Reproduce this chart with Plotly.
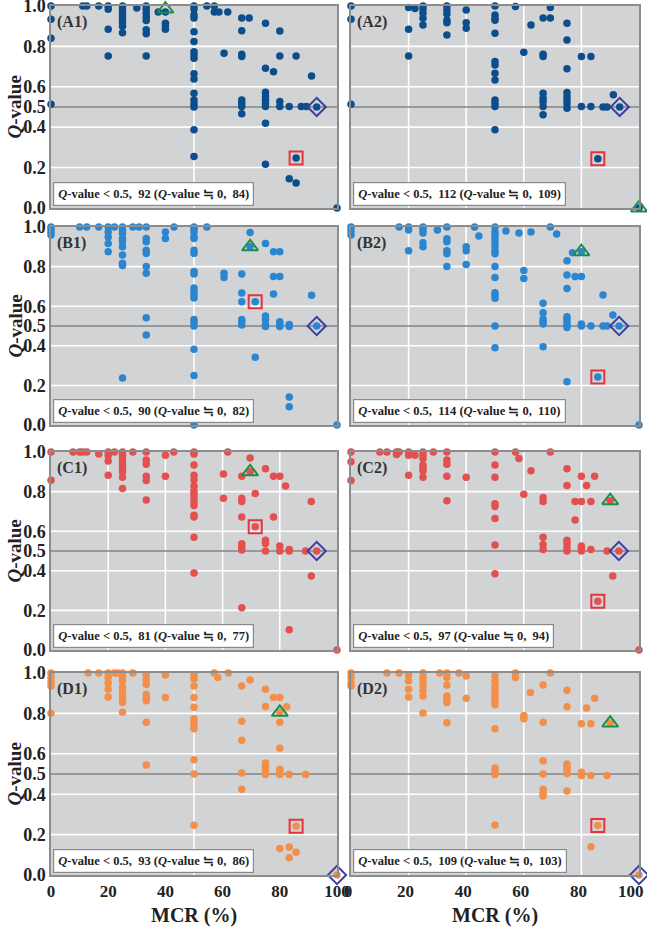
import plotly.graph_objects as go

# ---------------- data: (MCR %, [Q-values]) columns per panel ----------------
A1_cols = [
    (0, [1.0, 0.934, 0.84, 0.514]), (11.1, [1.0]), (12.5, [1.0]), (16.7, [1.0]),
    (20, [1.0, 0.984, 0.885, 0.753]),
    (25, [1.0, 0.984, 0.967, 0.95, 0.934, 0.918, 0.9, 0.868]),
    (30, [0.99]),
    (33.3, [1.0, 0.984, 0.964, 0.944, 0.928, 0.882, 0.862, 0.753]),
    (37.5, [0.97]), (40, [0.97, 0.915, 0.898, 0.885]),
    (50, [1.0, 0.984, 0.955, 0.94, 0.873, 0.824, 0.774, 0.758, 0.741, 0.664, 0.639,
          0.568, 0.535, 0.515, 0.5, 0.387, 0.255]),
    (54.5, [1.0]), (57.1, [1.0, 0.97]), (58.7, [0.97]), (60.5, [0.766]), (61.8, [0.97]),
    (66.7, [0.94, 0.878, 0.761, 0.75, 0.535, 0.519, 0.502, 0.466]), (69.3, [0.94]),
    (75, [0.914, 0.692, 0.573, 0.552, 0.535, 0.519, 0.502, 0.42, 0.217]),
    (77.8, [0.675]), (80, [0.876, 0.753, 0.527, 0.502]), (83.3, [0.502, 0.145]),
    (85.7, [0.753, 0.247, 0.124]), (87.5, [0.502]), (89.3, [0.502]), (91.1, [0.654]),
    (92.9, [0.5]), (100, [0.0]),
]
A2_cols = [
    (0, [1.0, 0.934, 0.514]), (20, [0.993, 0.885, 0.753]), (22.2, [0.988]),
    (25, [1.0, 0.984, 0.964, 0.939, 0.906]),
    (33.3, [1.0, 0.98, 0.96, 0.93, 0.917, 0.857]), (40, [0.98, 0.917, 0.89]),
    (50, [1.0, 0.956, 0.939, 0.93, 0.865, 0.725, 0.708, 0.667, 0.634, 0.535, 0.519, 0.502, 0.387]),
    (57.1, [0.997]), (60, [0.771]), (62.5, [0.906]),
    (66.7, [0.94, 0.761, 0.75, 0.568, 0.544, 0.527, 0.502, 0.461]), (69.2, [0.993, 0.94]),
    (75, [0.914, 0.832, 0.689, 0.572, 0.552, 0.535, 0.516, 0.494]),
    (80, [0.75, 0.502]), (83.3, [0.75, 0.502]), (85.7, [0.244]), (87.5, [0.5]), (88.9, [0.5]),
    (91.1, [0.56]), (93.3, [0.5]), (100, [0.0]),
]
B1_cols = [
    (0, [1.0, 0.99, 0.975, 0.96]), (10, [1.0]), (12.5, [1.0]), (16.7, [1.0]),
    (20, [1.0, 0.975, 0.95, 0.917, 0.875]), (22.2, [1.0]),
    (25, [1.0, 0.983, 0.967, 0.942, 0.925, 0.9, 0.858, 0.817, 0.805, 0.238]),
    (28.6, [1.0]), (30.8, [1.0]),
    (33.3, [1.0, 0.942, 0.925, 0.883, 0.867, 0.8, 0.767, 0.542, 0.455]),
    (40, [0.975, 0.942]), (43, [1.0]),
    (50, [1.0, 0.99, 0.975, 0.95, 0.942, 0.883, 0.867, 0.775, 0.762, 0.692, 0.675, 0.658,
          0.642, 0.533, 0.517, 0.5, 0.383, 0.25, 0.0]),
    (54.5, [1.0]), (60.5, [0.767, 0.745]),
    (66.7, [0.762, 0.667, 0.622, 0.533, 0.522, 0.505]), (69.6, [0.972, 0.9]),
    (71.4, [0.622, 0.342]), (75, [0.917, 0.55, 0.533, 0.508, 0.497]),
    (77.8, [0.875, 0.75, 0.662]), (80, [0.875, 0.75, 0.522, 0.508, 0.497]),
    (83.3, [0.508, 0.497, 0.142, 0.092]), (91.1, [0.655]), (92.9, [0.5]), (100, [0.0]),
]
B2_cols = [
    (0, [1.0, 0.98, 0.96]), (16.7, [1.0]), (20, [1.0, 0.985, 0.88]),
    (25, [1.0, 0.985, 0.97, 0.92, 0.9]), (30, [0.985]),
    (33.3, [1.0, 0.94, 0.925, 0.88, 0.865, 0.8]), (40, [0.9, 0.88, 0.81]),
    (42.9, [1.0]), (44.4, [0.955]),
    (50, [1.0, 0.975, 0.96, 0.94, 0.92, 0.9, 0.88, 0.865, 0.8, 0.745, 0.668, 0.657, 0.64, 0.5, 0.39]),
    (53.8, [0.98]), (58.3, [0.97]), (60, [0.78, 0.74]), (62.5, [0.975]),
    (66.7, [0.615, 0.567, 0.535, 0.523, 0.51, 0.395]), (69.2, [1.0]), (71.4, [0.965]),
    (75, [0.83, 0.757, 0.69, 0.547, 0.535, 0.52, 0.503, 0.493, 0.218]),
    (76.9, [0.87]), (77.8, [0.75]), (80, [0.875, 0.75, 0.51, 0.5]), (83.3, [0.5]),
    (85.7, [0.243]), (87.5, [0.657, 0.5]), (88.9, [0.5]), (90.9, [0.555]),
    (93.1, [0.5]), (100, [0.0]),
]
C1_cols = [
    (0, [1.0, 0.857]), (7.7, [1.0]), (10, [1.0]), (11.1, [1.0]), (12.5, [1.0]), (16.7, [0.99]),
    (20, [1.0, 0.984, 0.954, 0.882]), (22.2, [1.0]),
    (25, [1.0, 0.984, 0.967, 0.95, 0.934, 0.918, 0.9, 0.872, 0.816]), (28.6, [1.0]),
    (33.3, [1.0, 0.959, 0.938, 0.877, 0.856, 0.757]), (40, [0.984, 0.877]), (42.9, [1.0]),
    (50, [1.0, 0.99, 0.934, 0.882, 0.86, 0.828, 0.803, 0.787, 0.77, 0.75, 0.73, 0.68, 0.672,
          0.57, 0.389]),
    (60.3, [0.889, 0.766]), (61.8, [1.0]),
    (66.7, [0.877, 0.766, 0.75, 0.672, 0.536, 0.52, 0.505, 0.213]), (69.6, [0.97, 0.9]),
    (71.4, [0.79, 0.623]), (75, [0.915, 0.554, 0.538, 0.5]), (77.8, [0.877, 0.672]),
    (80, [0.877, 0.525, 0.5]), (82, [0.828]), (83.3, [0.508, 0.5, 0.102]), (89, [0.5]),
    (91, [0.75, 0.374]), (92.9, [0.5]), (100, [0.0]),
]
C2_cols = [
    (0, [1.0, 0.951, 0.856]), (10, [1.0]), (12.5, [1.0]), (15.8, [1.0, 0.987]), (16.7, [1.0]),
    (20, [1.0, 0.984, 0.882]), (22.2, [0.984]),
    (25, [1.0, 0.984, 0.967, 0.934, 0.918, 0.905, 0.872]), (28.6, [1.0]),
    (33.3, [1.0, 0.959, 0.938, 0.877, 0.754]), (40, [0.872]),
    (50, [1.0, 0.934, 0.872, 0.738, 0.725, 0.664, 0.53, 0.385]),
    (57.1, [1.0]), (58.3, [0.967]), (60, [0.787]), (62.5, [0.905]),
    (66.7, [0.77, 0.75, 0.569, 0.533, 0.508]), (69.2, [1.0]),
    (75, [0.915, 0.831, 0.554, 0.538, 0.516, 0.5]), (77.8, [0.75, 0.656]),
    (80, [0.877, 0.75, 0.525, 0.511, 0.5]), (81.8, [0.831]), (83.3, [0.75, 0.508]),
    (84.6, [0.877]), (85.7, [0.246]), (88.9, [0.5]), (90, [0.754]), (90.9, [0.374]),
    (93, [0.5]), (100, [0.0]),
]
D1_cols = [
    (0, [1.0, 0.977, 0.955, 0.935, 0.8]), (13, [1.0]), (16.7, [1.0]),
    (20, [1.0, 0.977, 0.95, 0.919, 0.881]), (22.2, [1.0]), (23.5, [1.0]),
    (25, [1.0, 0.98, 0.96, 0.93, 0.91, 0.886, 0.862, 0.854, 0.805]), (28.6, [1.0]),
    (33.3, [0.99, 0.965, 0.943, 0.894, 0.878, 0.862, 0.756, 0.545]), (40, [0.99, 0.878]),
    (50, [0.99, 0.97, 0.935, 0.878, 0.83, 0.773, 0.756, 0.74, 0.724, 0.57, 0.5, 0.246]),
    (57.1, [1.0]), (58.3, [0.977]), (62, [1.0]),
    (66.7, [0.935, 0.761, 0.667, 0.505, 0.424]), (69.6, [0.965]),
    (75, [0.919, 0.834, 0.554, 0.537, 0.521, 0.497]), (77.8, [0.878]),
    (80, [0.878, 0.805, 0.756, 0.627, 0.524, 0.513, 0.497, 0.131]), (82.4, [0.833]),
    (83.3, [0.497, 0.138, 0.085]), (85.7, [0.241, 0.113]), (89, [0.497]), (100, [0.0]),
]
D2_cols = [
    (0, [1.0, 0.977, 0.952, 0.935]), (12.5, [1.0]), (16.7, [1.0]),
    (20, [0.99, 0.96, 0.919, 0.881]), (25, [1.0, 0.977, 0.96, 0.935, 0.911, 0.886, 0.802]),
    (30.8, [1.0]), (33.3, [1.0, 0.977, 0.94, 0.886, 0.87, 0.854, 0.753]), (37.5, [1.0]),
    (40, [0.985, 0.875]),
    (50, [0.985, 0.96, 0.935, 0.919, 0.903, 0.886, 0.87, 0.854, 0.843, 0.724, 0.529, 0.513,
          0.497, 0.248]),
    (57.1, [1.0, 0.977]), (60, [0.789, 0.781, 0.773]), (62.3, [0.903]),
    (66.7, [0.94, 0.756, 0.565, 0.5, 0.424, 0.404, 0.391]), (69.2, [1.0]),
    (75, [0.914, 0.833, 0.549, 0.534, 0.518, 0.502, 0.416]),
    (80, [0.748, 0.508, 0.492]), (81.8, [0.826]), (83.3, [0.748, 0.492, 0.14]),
    (84.6, [0.875]), (85.7, [0.245]), (88.9, [0.492]), (90, [0.752]), (100, [0.0]),
]

# highlighted points (x, y)
triangles = {"A1": (40, 0.985), "A2": (100, 0.0), "B1": (69.6, 0.9), "B2": (80, 0.875),
             "C1": (69.6, 0.9), "C2": (90, 0.754), "D1": (80, 0.805), "D2": (90, 0.752)}
squares = {"A1": (85.7, 0.247), "A2": (85.7, 0.244), "B1": (71.4, 0.622), "B2": (85.7, 0.243),
           "C1": (71.4, 0.623), "C2": (85.7, 0.246), "D1": (85.7, 0.241), "D2": (85.7, 0.245)}
diamonds = {"A1": (92.9, 0.5), "A2": (93.3, 0.5), "B1": (92.9, 0.5), "B2": (93.1, 0.5),
            "C1": (92.9, 0.5), "C2": (93, 0.5), "D1": (100, 0.0), "D2": (100, 0.0)}

# box counts: (Q<0.5 count, Q≒0 count)
counts = {"A1": (92, 84), "A2": (112, 109), "B1": (90, 82), "B2": (114, 110),
          "C1": (81, 77), "C2": (97, 94), "D1": (93, 86), "D2": (109, 103)}

panels = ["A1", "A2", "B1", "B2", "C1", "C2", "D1", "D2"]
panel_cols = {"A1": A1_cols, "A2": A2_cols, "B1": B1_cols, "B2": B2_cols,
              "C1": C1_cols, "C2": C2_cols, "D1": D1_cols, "D2": D2_cols}
row_colors = {"A": "#0c4d8c", "B": "#2a86d0", "C": "#e2504f", "D": "#f28f4a"}

x_ticks = [0, 20, 40, 60, 80, 100]
y_ticks = [0.0, 0.2, 0.4, 0.5, 0.6, 0.8, 1.0]
y_tick_text = ["0.0", "0.2", "0.4", "0.5", "0.6", "0.8", "1.0"]

# ---------------- layout geometry ----------------
col_dom = [[0.0, 0.4864], [0.5102, 1.0]]
row_dom = {"A": [0.7676, 1.0], "B": [0.5178, 0.7457], "C": [0.2589, 0.4868], "D": [0.0, 0.2325]}
full_vgrid = {"A2", "B2", "C1", "C2", "D2"}

SERIF = "Liberation Serif, Times New Roman, serif"
BG = "#d2d3d5"
BORDER = "#8c8c8c"
TXT = "#222222"
XTICK_FONT = dict(family=SERIF, size=17, color=TXT, weight="bold")

fig = go.Figure()
bg_shapes, shapes, annotations = [], [], []

for i, p in enumerate(panels):
    n = i + 1
    xa = "x" if n == 1 else f"x{n}"
    ya = "y" if n == 1 else f"y{n}"
    row, col = p[0], int(p[1]) - 1
    color = row_colors[row]

    xs, ys = [], []
    for xv, yl in panel_cols[p]:
        for yv in yl:
            xs.append(xv)
            ys.append(yv)
    fig.add_trace(go.Scatter(x=xs, y=ys, mode="markers", xaxis=xa, yaxis=ya,
                             marker=dict(size=7.5, color=color), cliponaxis=False,
                             showlegend=False, hoverinfo="x+y"))
    for pts, sym, c, sz in [(triangles, "triangle-up-open", "#1f8d46", 14),
                            (squares, "square-open", "#e5343c", 13),
                            (diamonds, "diamond-open", "#3b3fa3", 14)]:
        fig.add_trace(go.Scatter(x=[pts[p][0]], y=[pts[p][1]], mode="markers",
                                 xaxis=xa, yaxis=ya, cliponaxis=False, showlegend=False,
                                 marker=dict(symbol=sym, size=sz, color=c,
                                             line=dict(width=2, color=c))))

    bottom = row == "D"
    left = col == 0
    # the right column's last tick label is drawn as an annotation so it stays inside the page
    tv = x_ticks if col == 0 else x_ticks[:-1]
    fig.layout[("xaxis" if n == 1 else f"xaxis{n}")] = dict(
        domain=col_dom[col], anchor=ya, range=[0, 100], showgrid=False, zeroline=False,
        showline=True, mirror=True, linecolor=BORDER, linewidth=1.5, automargin=False,
        tickvals=tv, ticks="", showticklabels=bottom, ticklabeloverflow="allow",
        ticklabelshift=(-3 if col == 1 else 0), tickfont=XTICK_FONT,
        fixedrange=True)
    fig.layout[("yaxis" if n == 1 else f"yaxis{n}")] = dict(
        domain=row_dom[row], anchor=xa, range=[0, 1], showgrid=False, zeroline=False,
        showline=True, mirror=True, linecolor=BORDER, linewidth=1.5, automargin=False,
        tickvals=y_ticks, ticktext=y_tick_text, ticks="", showticklabels=left,
        ticklabelstandoff=0, ticklabeloverflow="allow",
        tickfont=dict(family=SERIF, size=18, color=TXT, weight="bold"),
        fixedrange=True)

    xr_dom = f"{xa} domain"
    yr_dom = f"{ya} domain"
    bg_shapes.append(dict(type="rect", xref=xr_dom, yref=yr_dom, x0=0, x1=1, y0=0, y1=1,
                          fillcolor=BG, line=dict(width=0), layer="below"))
    for yv in [0.2, 0.4, 0.6, 0.8]:
        shapes.append(dict(type="line", xref=xr_dom, yref=ya, x0=0, x1=1, y0=yv, y1=yv,
                           line=dict(color="white", width=1.6), layer="below"))
    vlines = [20, 40, 60, 80] if p in full_vgrid else [50]
    for xv in vlines:
        shapes.append(dict(type="line", xref=xa, yref=yr_dom, x0=xv, x1=xv, y0=0, y1=1,
                           line=dict(color="white", width=1.6), layer="below"))
    shapes.append(dict(type="line", xref=xr_dom, yref=ya, x0=0, x1=1, y0=0.5, y1=0.5,
                       line=dict(color="#858585", width=1.3), layer="below"))

    # panel label
    annotations.append(dict(xref=xr_dom, yref=yr_dom, x=0.015, y=0.975, xanchor="left",
                            yanchor="top", showarrow=False, text=f"({p})",
                            font=dict(family=SERIF, size=16, color="#333", weight="bold")))
    # count box
    c1, c2 = counts[p]
    annotations.append(dict(
        xref=xr_dom, yref=yr_dom, x=0.007, y=0.012, xanchor="left", yanchor="bottom",
        showarrow=False,
        text=(f"<i>Q</i>-value &lt; 0.5,&nbsp; {c1} (<i>Q</i>-value ≒ 0,&nbsp; {c2})"),
        font=dict(family=SERIF, size=12.5, color=TXT, weight="bold"),
        bgcolor="white", bordercolor="#8a8a8a", borderwidth=1.2, borderpad=4))

    # axis titles
    if left:
        annotations.append(dict(xref="paper", yref="paper", x=-0.062,
                                y=sum(row_dom[row]) / 2, xanchor="center", yanchor="middle",
                                textangle=-90, showarrow=False, text="<i>Q</i>-value",
                                font=dict(family=SERIF, size=19, color=TXT, weight="bold")))
    if bottom:
        annotations.append(dict(xref=xr_dom, yref="paper", x=0.5, y=-0.047,
                                xanchor="center", yanchor="middle", showarrow=False,
                                text="MCR (%)",
                                font=dict(family=SERIF, size=20, color=TXT, weight="bold")))
        if col == 1:
            annotations.append(dict(xref=xa, yref="paper", x=x_ticks[-1], y=-0.0185,
                                    xanchor="right", yanchor="middle", xshift=7,
                                    showarrow=False, text=str(x_ticks[-1]), font=XTICK_FONT))

fig.update_layout(
    width=647, height=928, paper_bgcolor="white", plot_bgcolor="white",
    margin=dict(l=51, r=8, t=6, b=53, autoexpand=False),
    shapes=bg_shapes + shapes, annotations=annotations,
    font=dict(family=SERIF),
)

fig.write_html("out.html", config={"displayModeBar": False},
               post_script="document.body.style.margin='0';document.body.style.overflow='hidden';")
